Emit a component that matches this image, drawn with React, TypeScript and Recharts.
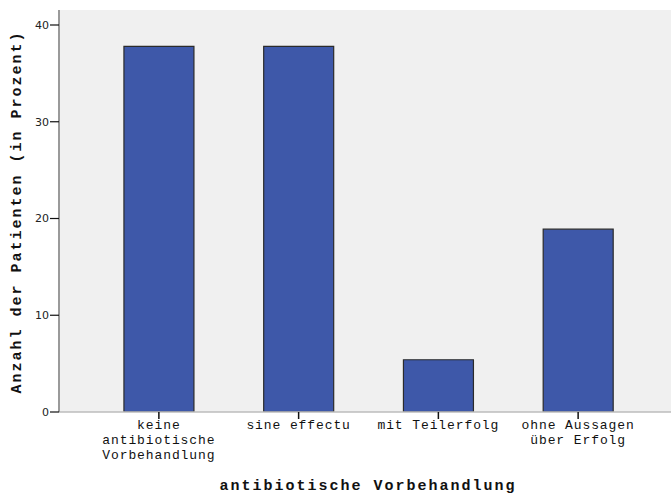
import React from "react"
import { BarChart, Bar, XAxis, YAxis, CartesianGrid } from "recharts"

const categories = [
  "keine\nantibiotische\nVorbehandlung",
  "sine effectu",
  "mit Teilerfolg",
  "ohne Aussagen\nüber Erfolg",
]
const percentValues = [37.8, 37.8, 5.4, 18.9]
const yTicks = [0, 10, 20, 30, 40]

const data = categories.map((c, i) => ({ category: c, value: percentValues[i] }))

const mono = "'Liberation Mono', 'DejaVu Sans Mono', monospace"

function CategoryTick(props: any) {
  const { x, y, payload } = props
  const lines = String(payload.value).split("\n")
  return (
    <g>
      {lines.map((line: string, i: number) => (
        <text
          key={i}
          x={x}
          y={y + 10 + i * 15}
          textAnchor="middle"
          fontFamily={mono}
          fontSize={13}
          letterSpacing={0.9}
          fill="#111"
        >
          {line}
        </text>
      ))}
    </g>
  )
}

function YTitle(props: any) {
  const { viewBox } = props
  const cx = 17
  const cy = viewBox.y + viewBox.height / 2 + 1
  return (
    <text
      x={cx}
      y={cy}
      transform={`rotate(-90 ${cx} ${cy})`}
      textAnchor="middle"
      dominantBaseline="central"
      fontFamily={mono}
      fontWeight="bold"
      fontSize={15}
      letterSpacing={2}
      fill="#111"
    >
      Anzahl der Patienten (in Prozent)
    </text>
  )
}

function XTitle(props: any) {
  const { viewBox } = props
  const cx = viewBox.x + viewBox.width / 2 + 3
  return (
    <text
      x={cx}
      y={490}
      textAnchor="middle"
      fontFamily={mono}
      fontWeight="bold"
      fontSize={15}
      letterSpacing={2}
      fill="#111"
    >
      antibiotische Vorbehandlung
    </text>
  )
}

export default function App() {
  return (
    <div style={{ position: "absolute", left: 0, top: 0, width: 671, height: 495, background: "#fff" }}>
      <BarChart
        width={671}
        height={495}
        data={data}
        margin={{ top: 10, right: 0, bottom: 0, left: 0 }}
        barCategoryGap="25%"
      >
        <CartesianGrid fill="#f0f0f0" stroke="none" horizontal={false} vertical={false} />
        <XAxis
          dataKey="category"
          height={83}
          interval={0}
          padding={{ left: 30, right: 23 }}
          axisLine={{ stroke: "#bdbdbd", strokeWidth: 1.5 }}
          tickLine={{ stroke: "#111", strokeWidth: 1.5 }}
          tickSize={7}
          tickMargin={0}
          tick={<CategoryTick />}
          label={<XTitle />}
        />
        <YAxis
          width={59}
          domain={[0, 41.55]}
          ticks={yTicks}
          allowDataOverflow
          axisLine={{ stroke: "#9a9a9a", strokeWidth: 2 }}
          tickLine={{ stroke: "#111", strokeWidth: 1.2 }}
          tickSize={9}
          tickMargin={1}
          tick={{ fontSize: 11, fill: "#222", fontFamily: "'DejaVu Sans', sans-serif" }}
          label={<YTitle />}
        />
        <Bar dataKey="value" fill="#3e58a9" stroke="#2b2b2b" strokeWidth={1.2} isAnimationActive={false} />
      </BarChart>
    </div>
  )
}
